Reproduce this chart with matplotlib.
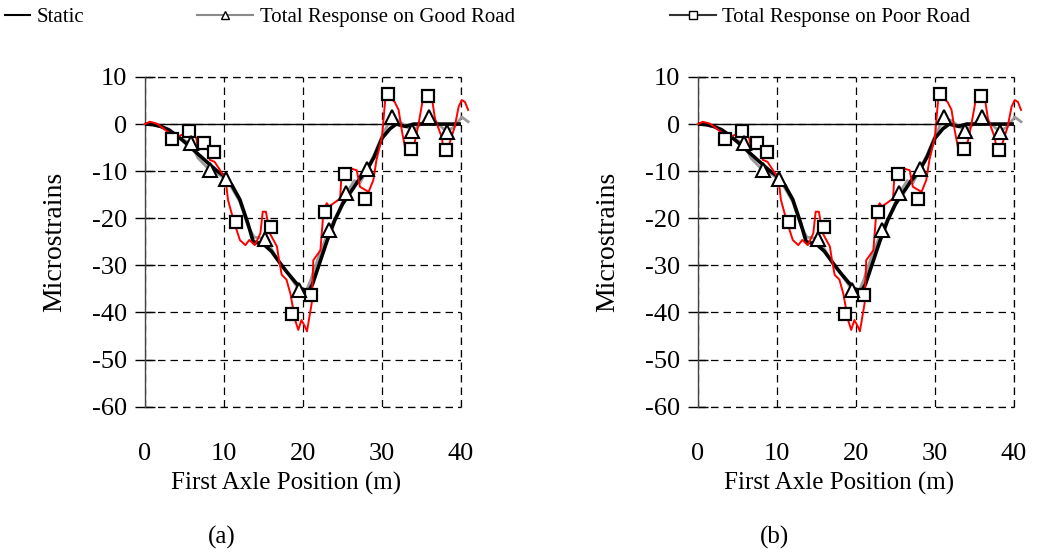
import matplotlib
matplotlib.use("Agg")
import matplotlib.pyplot as plt
from matplotlib.lines import Line2D

plt.rcParams['font.family'] = ['Liberation Serif', 'DejaVu Serif']
plt.rcParams['axes.unicode_minus'] = False

# static response
static_x = [0, 1, 2, 3, 4, 5, 6, 7, 8, 9, 10, 11, 12, 13, 13.7, 15, 16, 17, 18, 19, 20,
            20.7, 21.2, 22, 23, 24, 25, 26, 27, 28, 29, 30, 31, 31.8, 33, 34, 35, 36, 37, 38, 39, 40]
static_y = [0, -0.1, -0.5, -1.2, -2.4, -3.8, -5.3, -6.8, -8.3, -9.8, -11.0, -13.0, -16.0, -21.0, -25.0,
            -25.5, -27.0, -29.3, -31.5, -33.5, -35.3, -35.5, -34.0, -30.0, -25.0, -20.5, -17.0, -14.5,
            -12.0, -10.0, -7.0, -3.0, -1.0, 0, -0.5, 0, 0, 0, 0, 0, 0, 0]

# total response on good road
good_x = [0, 1, 2, 3, 4, 5, 5.8, 6.7, 8.2, 9, 10.2, 11, 12, 13, 13.8, 15.2, 16, 17, 18, 19.5, 20.3,
          21, 22, 23.3, 24.5, 25.5, 26.5, 27.2, 28.1, 29, 30, 31.2, 32, 32.8, 33.8, 34.8, 35.9, 37,
          38.2, 39.2, 40.1, 40.9]
good_y = [0, -0.2, -0.6, -1.4, -2.6, -3.5, -4.1, -7.2, -9.8, -10.3, -11.7, -13.6, -16.5, -21.5, -24.0,
          -24.3, -26.5, -29.5, -31.5, -35.2, -35.8, -33.0, -28.0, -22.5, -18.5, -14.6, -12.0, -12.5,
          -9.6, -6.5, -2.5, 1.4, 0.8, -0.2, -1.4, -0.2, 1.6, 0.2, -1.6, -0.5, 1.5, 0.5]
good_mx = [5.8, 8.2, 10.2, 15.2, 19.5, 23.3, 25.5, 28.1, 31.2, 33.8, 35.9, 38.2]
good_my = [-4.1, -9.8, -11.7, -24.3, -35.2, -22.5, -14.6, -9.6, 1.4, -1.4, 1.6, -1.6]

# total response on poor road
poor_x = [0, 0.6, 1.5, 2.3, 3.3, 4.4, 5.0, 5.7, 6.5, 6.7, 7.2, 7.8, 8.2, 8.8, 9.5, 10.2, 10.5, 11.2,
          12.0, 12.7, 13.2, 13.9, 14.6, 14.9, 15.3, 15.8, 16.7, 16.9, 17.3, 17.9, 18.4, 19.0, 19.4,
          19.8, 20.25, 20.5, 21.1, 21.3, 22.2, 22.6, 23.0, 23.3, 24.7, 24.9, 26.0, 26.8, 27.2, 28.3,
          28.9, 29.3, 30.0, 30.4, 31.0, 31.6, 32.1, 32.5, 33.1, 33.8, 34.2, 34.6, 35.2, 35.8, 36.3,
          36.7, 37.6, 37.8, 38.4, 38.8, 39.2, 39.7, 40.1, 40.5, 40.9]
poor_y = [0, 0.5, 0.1, -0.9, -2.2, -2.5, -2.0, -1.3, -3.0, -5.5, -5.0, -4.0, -7.6, -8.0, -9.8, -11.7,
          -16.1, -20.4, -24.6, -25.7, -24.6, -25.7, -23.2, -18.6, -18.6, -23.2, -26.0, -28.2, -32.0,
          -33.0, -36.0, -41.6, -43.7, -41.6, -43.0, -44.0, -38.0, -28.9, -26.8, -18.3, -16.8, -17.5,
          -15.8, -9.8, -9.4, -9.8, -13.3, -14.4, -11.9, -7.6, -2.7, 5.1, 5.6, 4.7, 3.0, -1.3, -6.6,
          -6.2, -3.4, -0.2, 5.5, 6.0, 5.7, 1.2, -3.0, -6.2, -4.9, -2.7, -0.6, 3.7, 5.1, 4.7, 3.0]
poor_mx = [3.4, 5.6, 7.5, 8.7, 11.5, 16.0, 18.6, 21.0, 22.8, 25.3, 27.9, 30.7, 33.7, 35.8, 38.1]
poor_my = [-3.2, -1.5, -4.0, -6.0, -20.7, -21.8, -40.3, -36.3, -18.7, -10.5, -15.9, 6.4, -5.2, 5.9, -5.5]

x_ticks = [0, 10, 20, 30, 40]
y_ticks = [10, 0, -10, -20, -30, -40, -50, -60]
panel_labels = ['(a)', '(b)']

GRID = dict(color='black', lw=0.9, linestyle=(0, (6, 4)))


def draw_panel(ax):
    ax.plot(good_x, good_y, color='#9a9a9a', lw=2.0, clip_on=False, zorder=3)
    ax.plot(static_x, static_y, color='black', lw=2.6, zorder=4)
    ax.plot(poor_x, poor_y, color='red', lw=1.4, clip_on=False, zorder=5)
    ax.plot(poor_mx, poor_my, ls='none', marker='s', ms=9, mfc='white', mec='black', mew=1.6, zorder=6)
    ax.plot(good_mx, good_my, ls='none', marker='^', ms=9.5, mfc='white', mec='black', mew=1.5, zorder=7)
    ax.axhline(0, color='black', lw=1.0, zorder=2)

    ax.set_xlim(0, 40)
    ax.set_ylim(-60, 10)
    ax.set_xticks(x_ticks)
    ax.set_yticks(y_ticks)
    ax.tick_params(axis='x', length=0, pad=26, labelsize=19)
    ax.tick_params(axis='y', direction='inout', length=14, width=1, pad=6, labelsize=19)
    ax.grid(True, zorder=1, **GRID)
    # dashed frame on the outer edges of the grid
    ax.axhline(y_ticks[0], clip_on=False, zorder=1, **GRID)
    ax.axhline(y_ticks[-1], clip_on=False, zorder=1, **GRID)
    ax.axvline(x_ticks[-1], clip_on=False, zorder=1, **GRID)
    ax.set_axisbelow(True)
    for s in ['top', 'right', 'bottom']:
        ax.spines[s].set_visible(False)
    ax.spines['left'].set_color('#444444')
    ax.spines['left'].set_linewidth(1.0)

    ax.set_ylabel('Microstrains', fontsize=20, va='center')
    ax.yaxis.set_label_coords(-0.285, 0.5)
    ax.set_xlabel('First Axle Position (m)', fontsize=18, va='center')
    ax.xaxis.set_label_coords(0.445, -0.232)


fig = plt.figure(figsize=(10.48, 5.55), dpi=100)
ax1 = fig.add_axes([0.1384, 0.2672, 0.3015, 0.5941])
ax2 = fig.add_axes([0.666, 0.2672, 0.3015, 0.5941])
draw_panel(ax1)
draw_panel(ax2)

fig.text(0.212, 0.032, panel_labels[0], fontsize=18, ha='center', va='center')
fig.text(0.739, 0.032, panel_labels[1], fontsize=18, ha='center', va='center')

# legend entries, laid out like the original across the top
h_static = Line2D([], [], color='black', lw=1.5)
h_good = Line2D([], [], color='#8a8a8a', lw=1.5, marker='^', ms=6, mfc='white', mec='black', mew=1.0)
h_poor = Line2D([], [], color='#333333', lw=1.5, marker='s', ms=6, mfc='white', mec='black', mew=1.0)

leg_kw = dict(frameon=False, fontsize=15, borderaxespad=0, borderpad=0,
              handletextpad=0.3, loc='center left')
fig.legend([h_static], ['Static'], bbox_to_anchor=(0.005, 0.969), handlelength=1.2, **leg_kw)
fig.legend([h_good], ['Total Response on Good Road'], bbox_to_anchor=(0.188, 0.969),
           handlelength=2.7, **leg_kw)
fig.legend([h_poor], ['Total Response on Poor Road'], bbox_to_anchor=(0.639, 0.969),
           handlelength=2.2, **leg_kw)

fig.savefig('out.png', dpi=100)
